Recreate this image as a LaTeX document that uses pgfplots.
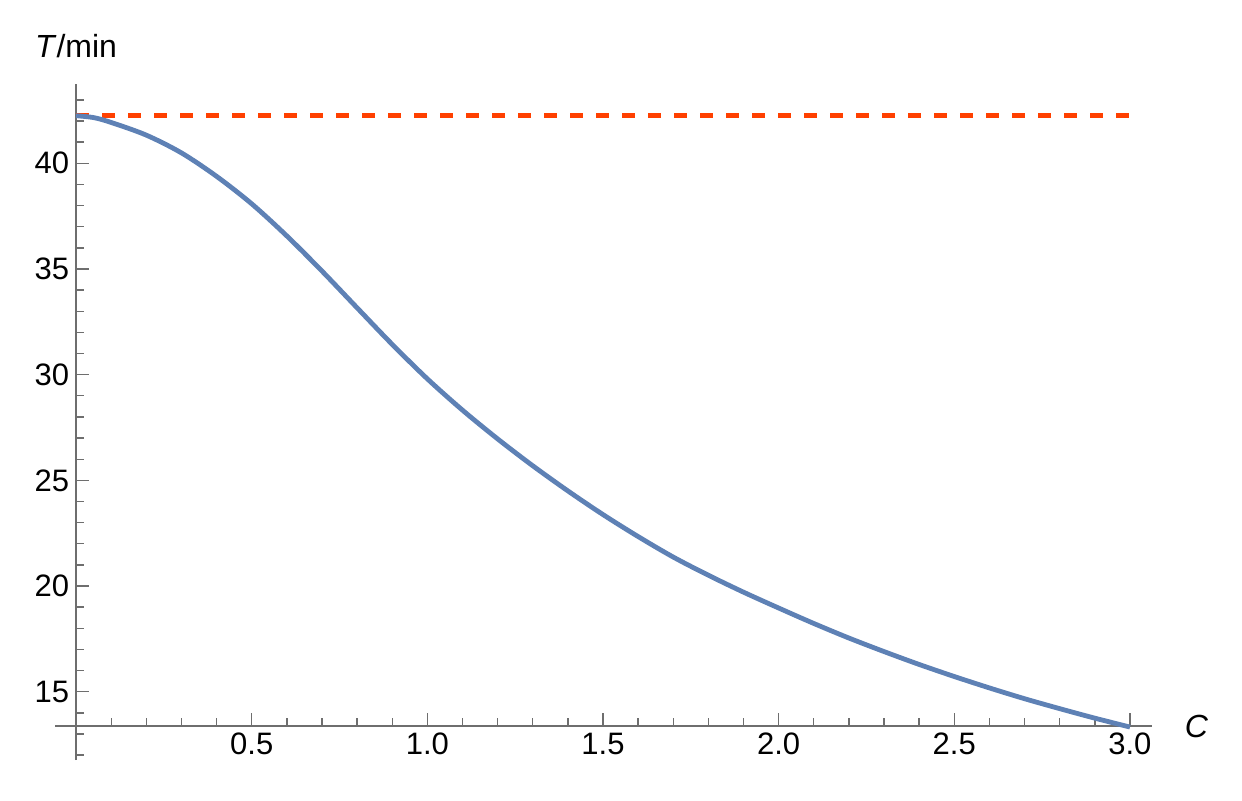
\documentclass[border=0pt]{standalone}
\usepackage{pgfplots}
\pgfplotsset{compat=1.18}
\usepackage{fontspec}
\setmainfont{Liberation Sans}
\definecolor{mblue}{RGB}{94,129,181}
\definecolor{mred}{RGB}{255,64,0}
\definecolor{axgray}{RGB}{110,110,110}
\begin{document}
\begin{tikzpicture}
\useasboundingbox (0,0) rectangle (621pt,400pt);
\begin{axis}[
  at={(38.05pt,20pt)}, anchor=south west,
  scale only axis, width=537.8pt, height=338pt,
  xmin=0, xmax=3.062, ymin=11.77, ymax=43.75,
  axis x line=bottom, axis y line=left,
  axis x line shift=-17pt,
  axis line style={-, draw=axgray, line width=0.85pt},
  x axis line style={shorten <=-10.5pt},
  tick align=inside,
  xtick={0.5,1.0,1.5,2.0,2.5,3.0},
  xticklabels={0.5,1.0,1.5,2.0,2.5,3.0},
  minor xtick={0.1,0.2,0.3,0.4,0.6,0.7,0.8,0.9,1.1,1.2,1.3,1.4,1.6,1.7,1.8,1.9,2.1,2.2,2.3,2.4,2.6,2.7,2.8,2.9},
  ytick={15,20,25,30,35,40},
  minor ytick={12,13,14,16,17,18,19,21,22,23,24,26,27,28,29,31,32,33,34,36,37,38,39,41,42,43},
  major tick length=6.3pt, minor tick length=4pt,
  every tick/.style={axgray, line width=0.7pt},
  tick label style={font=\fontsize{15.5}{18}\selectfont, black},
  /pgf/number format/assume math mode=true,
  xlabel={\textit{C}}, ylabel={\textit{T}/min},
  every axis x label/.style={at={(axis description cs:1,0)}, anchor=west, xshift=13pt, yshift=17pt},
  every axis y label/.style={at={(axis description cs:0,1)}, anchor=base, yshift=13pt},
  label style={font=\fontsize{16}{19}\selectfont},
  clip=false,
]
\addplot[mred, line width=2.3pt, dash pattern=on 6.6pt off 6.4pt] coordinates {(0,42.25) (3.0,42.25)};
\addplot[mblue, line width=2.4pt, smooth] coordinates {
(0,42.25) (0.05,42.16) (0.1,41.93) (0.2,41.33) (0.3,40.49) (0.4,39.38)
(0.5,38.08) (0.6,36.56) (0.7,34.90) (0.8,33.16) (0.9,31.43) (1.0,29.80)
(1.1,28.32) (1.2,26.96) (1.3,25.69) (1.4,24.50) (1.5,23.38) (1.6,22.34)
(1.7,21.37) (1.8,20.51) (1.9,19.71) (2.0,18.96) (2.1,18.23) (2.2,17.54)
(2.3,16.90) (2.4,16.29) (2.5,15.72) (2.6,15.18) (2.7,14.67) (2.8,14.20)
(2.9,13.75) (3.0,13.33)
};
\end{axis}
\end{tikzpicture}
\end{document}
